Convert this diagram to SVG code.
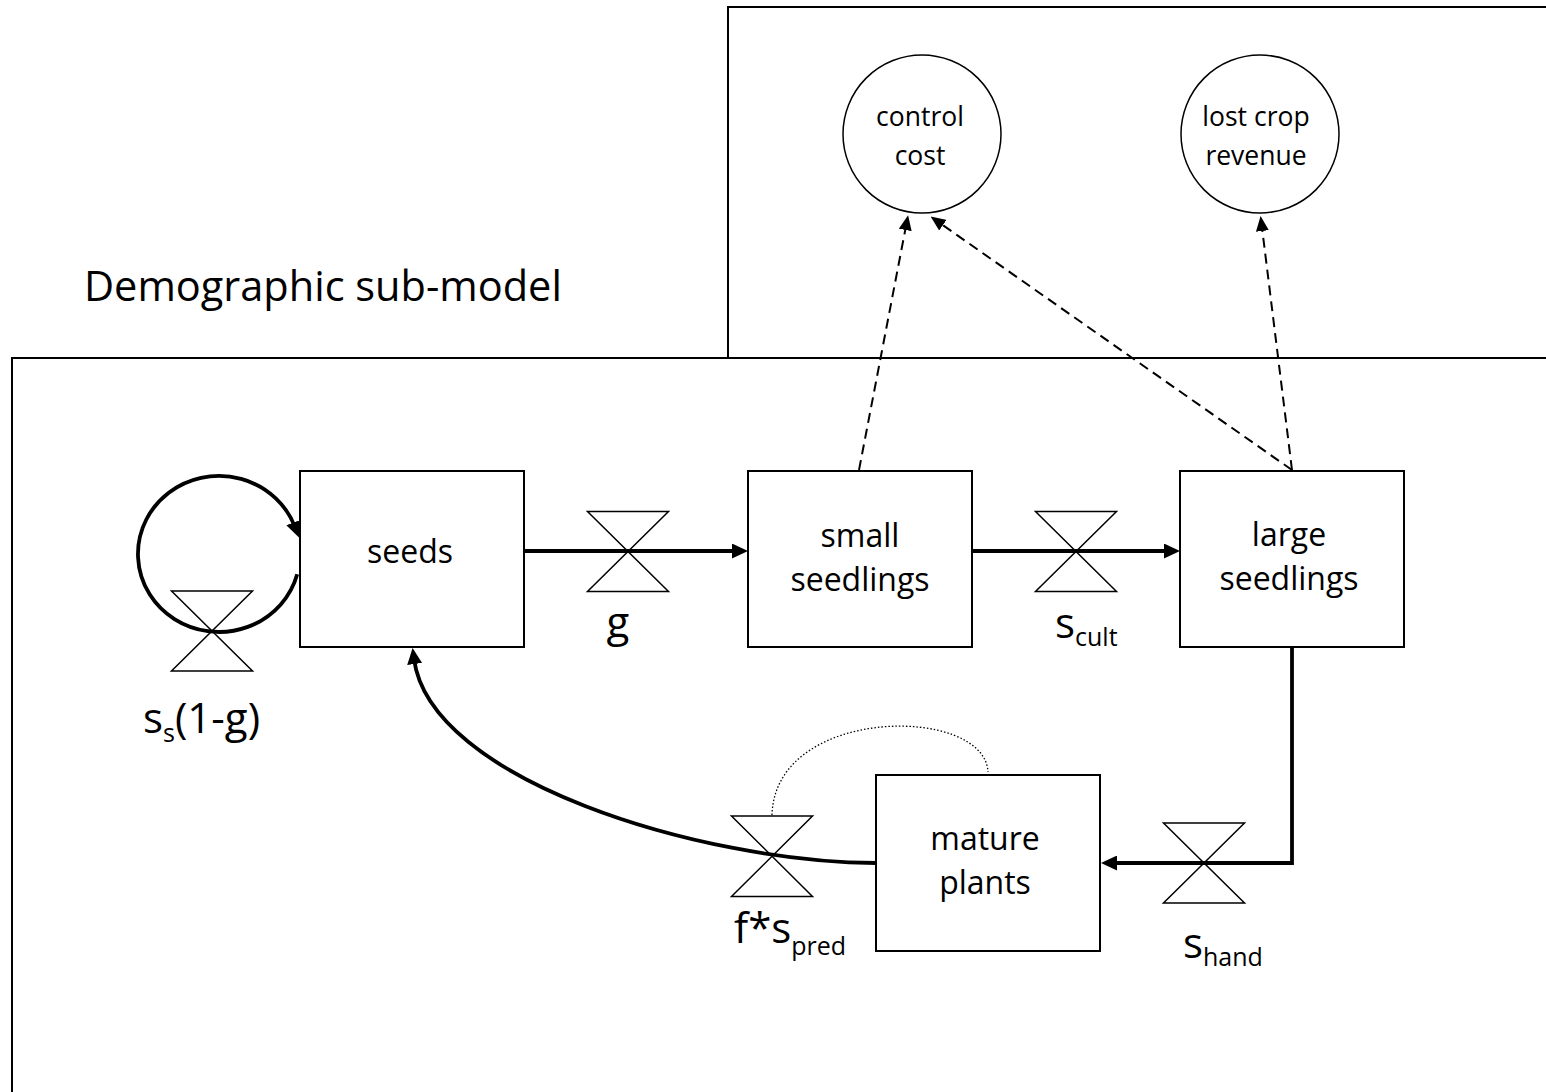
<svg xmlns="http://www.w3.org/2000/svg" width="1546" height="1092" viewBox="0 0 1546 1092">
<style>
  .frame{fill:none;stroke:#000;stroke-width:2}
  .box{fill:#fff;stroke:#000;stroke-width:2}
  .circ{fill:#fff;stroke:#000;stroke-width:1.5}
  .valve{fill:none;stroke:#000;stroke-width:1.5;stroke-linejoin:miter}
  .flow{fill:none;stroke:#000;stroke-width:3.8}
  .dash{fill:none;stroke:#000;stroke-width:2;stroke-dasharray:10 6}
  .dot{fill:none;stroke:#000;stroke-width:1.3;stroke-dasharray:1.5 2}
  text{font-family:"Open Sans","Noto Sans","Liberation Sans",sans-serif;fill:#000}
  .t{font-size:32px;text-anchor:middle}
  .c{font-size:26.5px;text-anchor:middle}
  .lbl{font-size:42px}
  .sub{font-size:25px}
  .title{font-size:41.5px}
</style>
<defs>
  <marker id="arr" viewBox="0 0 16 15" markerWidth="16" markerHeight="15" refX="5" refY="7.5" orient="auto" markerUnits="userSpaceOnUse">
    <path d="M0,0 L16,7.5 L0,15 z" fill="#000"/>
  </marker>
  <marker id="arrs" viewBox="0 0 15 13" markerWidth="15" markerHeight="13" refX="5" refY="6.5" orient="auto" markerUnits="userSpaceOnUse">
    <path d="M0,0 L15,6.5 L0,13 z" fill="#000"/>
  </marker>
</defs>
<rect fill="#fff" x="0" y="0" width="1546" height="1092"/>

<g id="economic-frame"><rect class="frame" x="728" y="7" width="900" height="351"/></g>
<g id="demographic-frame"><rect class="frame" x="12" y="358" width="1600" height="800"/></g>
<text class="title" x="84" y="301">Demographic sub-model</text>

<g id="connectors">
  <path class="flow" d="M524,551 L737,551" marker-end="url(#arr)"/>
  <path class="flow" d="M972,551 L1169,551" marker-end="url(#arr)"/>
  <path class="flow" d="M1292,647 L1292,863 L1112,863" marker-end="url(#arr)"/>
  <path class="flow" d="M876,863 C700,862 430,780 414,659" marker-end="url(#arr)"/>
  <path class="flow" d="M297.2,574.2 A81,78 0 1 1 295.1,527.3" marker-end="url(#arr)"/>
  <path class="dot" d="M772,815 C775,705 985,705 988,772"/>
  <path class="dash" d="M859,470 L906.2,225" marker-end="url(#arrs)"/>
  <path class="dash" d="M1292,470 L938.8,222.3" marker-end="url(#arrs)"/>
  <path class="dash" d="M1292,470 L1261.8,226" marker-end="url(#arrs)"/>
</g>

<g id="valve-ss"><path class="valve" d="M171.5,591 L252.5,591 L171.5,671 L252.5,671 Z"/></g>
<g id="valve-g"><path class="valve" d="M587.5,511.5 L668.5,511.5 L587.5,591.5 L668.5,591.5 Z"/></g>
<g id="valve-scult"><path class="valve" d="M1035.5,511.5 L1116.5,511.5 L1035.5,591.5 L1116.5,591.5 Z"/></g>
<g id="valve-spred"><path class="valve" d="M731.5,816 L812.5,816 L731.5,896.5 L812.5,896.5 Z"/></g>
<g id="valve-shand"><path class="valve" d="M1163.5,823 L1244.5,823 L1163.5,903 L1244.5,903 Z"/></g>

<g id="seeds"><rect class="box" x="300" y="471" width="224" height="176"/><text class="t" x="410" y="563">seeds</text></g>
<g id="small-seedlings"><rect class="box" x="748" y="471" width="224" height="176"/><text class="t" x="860" y="547">small</text><text class="t" x="860" y="591">seedlings</text></g>
<g id="large-seedlings"><rect class="box" x="1180" y="471" width="224" height="176"/><text class="t" x="1289" y="546">large</text><text class="t" x="1289" y="590">seedlings</text></g>
<g id="mature-plants"><rect class="box" x="876" y="775" width="224" height="176"/><text class="t" x="985" y="850">mature</text><text class="t" x="985" y="894">plants</text></g>

<g id="control-cost"><circle class="circ" cx="922" cy="134" r="79"/><text class="c" x="920" y="126">control</text><text class="c" x="920" y="165">cost</text></g>
<g id="lost-crop-revenue"><circle class="circ" cx="1260" cy="134" r="79"/><text class="c" x="1256" y="126">lost crop</text><text class="c" x="1256" y="165">revenue</text></g>

<g id="labels">
  <text class="lbl" x="143" y="733">s<tspan class="sub" dy="9">s</tspan><tspan dy="-9">(1-g)</tspan></text>
  <text class="lbl" x="618" y="637" text-anchor="middle">g</text>
  <text class="lbl" x="1055" y="638">s<tspan class="sub" dy="8">cult</tspan></text>
  <text class="lbl" x="734" y="943">f*s<tspan class="sub" dy="12">pred</tspan></text>
  <text class="lbl" x="1183" y="958">s<tspan class="sub" dy="8">hand</tspan></text>
</g>
</svg>
